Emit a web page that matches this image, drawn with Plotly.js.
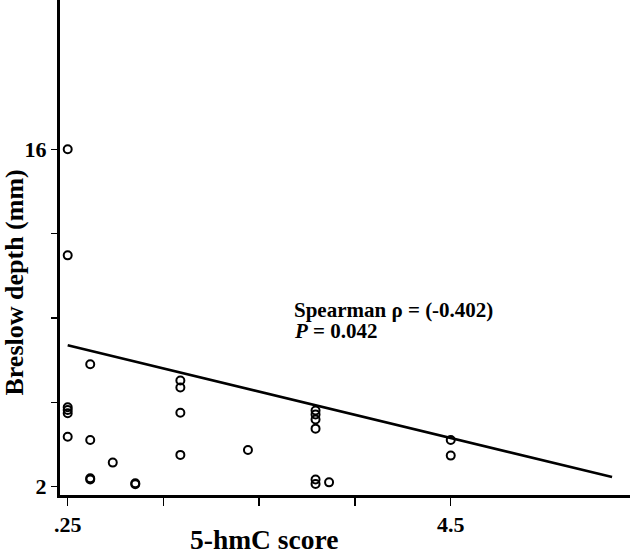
<!DOCTYPE html>
<html>
<head>
<meta charset="utf-8">
<script src="https://cdn.plot.ly/plotly-3.0.1.min.js"></script>
<style>
	html, body {margin: 0; padding: 0; background: white;}
	#myDiv {width: 630px; height: 556px;}
</style>
</head>
<body>
<div id="myDiv"></div>
<script>
// 5-hmC score vs. Breslow depth
let hmcScore = [0.25, 0.25, 0.25, 0.25, 0.25, 0.25,
		0.5, 0.5, 0.5, 0.5,
		0.75,
		1.0, 1.0,
		1.5, 1.5, 1.5, 1.5,
		2.25,
		3.0, 3.0, 3.0, 3.0, 3.0, 3.0, 3.15,
		4.5, 4.5]
let breslow = [16.0, 11.6, 5.3, 5.18, 5.05, 4.07,
		7.08, 3.94, 2.35, 2.3,
		3.0,
		2.14, 2.1,
		6.41, 6.12, 5.07, 3.32,
		3.52,
		5.16, 5.0, 4.79, 4.41, 2.3, 2.11, 2.18,
		3.94, 3.29]

// Regressionsgerade (Endpunkte)
let fitX = [0.25, 6.29]
let fitY = [7.87, 2.40]

let xTicks = [0.25, 1.3125, 2.375, 3.4375, 4.5]
let xTickText = ["<b>.25</b>", "", "", "", "<b>4.5</b>"]
let yTicks = [2, 5.5, 9, 12.5, 16]
let yTickText = ["<b>2</b>", "", "", "", "<b>16</b>"]

let serif = "Liberation Serif, Times New Roman, serif"

var data = [
	{
	x: hmcScore,
	y: breslow,
	mode: "markers",
	type: "scatter",
	marker: {
		symbol: "circle-open",
		size: 8,
		color: "black",
		line: {width: 2, color: "black"}
		},
	cliponaxis: false
	},
	{
	x: fitX,
	y: fitY,
	mode: "lines",
	type: "scatter",
	line: {color: "black", width: 2.5}
	}
	]

var layout = {
	width: 630,
	height: 556,
	margin: {l: 60, r: 0, t: 0, b: 61},
	paper_bgcolor: "white",
	plot_bgcolor: "white",
	showlegend: false,
	font: {family: serif, color: "black"},
	xaxis: {
		range: [0.1646, 6.489],
		showgrid: false,
		zeroline: false,
		showline: true,
		linewidth: 3,
		linecolor: "black",
		ticks: "outside",
		ticklen: 8,
		tickwidth: 1.5,
		tickcolor: "black",
		tickvals: xTicks,
		ticktext: xTickText,
		tickfont: {family: serif, size: 22, color: "black"}
		},
	yaxis: {
		range: [1.656, 22.195],
		showgrid: false,
		zeroline: false,
		showline: true,
		linewidth: 3,
		linecolor: "black",
		ticks: "outside",
		ticklen: 6,
		tickwidth: 1.5,
		tickcolor: "black",
		tickvals: yTicks,
		ticktext: yTickText,
		tickfont: {family: serif, size: 22, color: "black"}
		},
	annotations: [
		// Achsentitel
		{
		xref: "paper", yref: "paper",
		x: 0.358, y: -0.0909,
		xanchor: "center", yanchor: "middle",
		showarrow: false,
		text: "<b>5-hmC score</b>",
		font: {family: serif, size: 27.5, color: "black"}
		},
		{
		xref: "paper", yref: "paper",
		x: -0.08, y: 0.43,
		xanchor: "center", yanchor: "middle",
		textangle: -90,
		showarrow: false,
		text: "<b>Breslow depth (mm)</b>",
		font: {family: serif, size: 26, color: "black"}
		},
		// Statistik
		{
		xref: "paper", yref: "paper",
		x: 0.407, y: 0.3737,
		xanchor: "left", yanchor: "middle",
		showarrow: false,
		text: "<b>Spearman ρ = (-0.402)</b>",
		font: {family: serif, size: 21, color: "black"}
		},
		{
		xref: "paper", yref: "paper",
		x: 0.407, y: 0.3313,
		xanchor: "left", yanchor: "middle",
		showarrow: false,
		text: "<b><i>P</i> = 0.042</b>",
		font: {family: serif, size: 21, color: "black"}
		}
		]
	}

Plotly.newPlot("myDiv", data, layout, {displayModeBar: false, staticPlot: true})
</script>
</body>
</html>
